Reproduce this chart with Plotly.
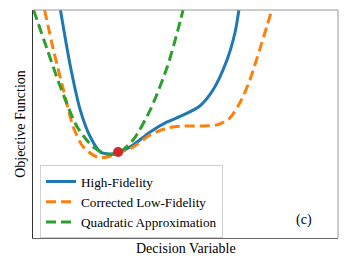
import plotly.graph_objects as go

# Values (data units, x and y in 0..10)
hf_x = [0.90, 1.23, 1.55, 1.88, 2.21, 2.53, 2.79, 3.28, 3.84, 4.40, 4.92, 5.47, 5.90, 6.36, 6.62, 6.75]
hf_y = [10.0, 7.50, 5.61, 4.43, 3.77, 3.68, 3.73, 4.08, 4.65, 5.09, 5.39, 5.79, 6.49, 7.81, 8.99, 10.0]

lf_x = [0.38, 0.67, 1.00, 1.32, 1.65, 2.11, 2.43, 2.79, 3.28, 3.84, 4.40, 4.92, 5.47, 6.03, 6.45, 6.78, 7.11, 7.43, 7.66, 7.83]
lf_y = [10.0, 8.25, 6.49, 4.87, 3.99, 3.55, 3.55, 3.73, 3.99, 4.52, 4.82, 4.91, 4.91, 4.96, 5.26, 5.92, 6.93, 8.25, 9.25, 10.0]

qa_x = [0.02, 0.47, 0.90, 1.45, 1.98, 2.43, 2.79, 3.28, 3.84, 4.40, 4.75, 4.92]
qa_y = [10.0, 8.25, 6.62, 4.87, 3.99, 3.68, 3.73, 4.30, 5.61, 7.50, 9.12, 10.0]

pt_x = [2.79]
pt_y = [3.77]

names = ["High-Fidelity", "Corrected Low-Fidelity", "Quadratic Approximation"]
x_title = "Decision Variable"
y_title = "Objective Function"
panel_label = "(c)"
serif = "Liberation Serif, Times New Roman, serif"

fig = go.Figure()
fig.add_trace(go.Scatter(x=hf_x, y=hf_y, mode="lines", name=names[0],
                         line=dict(color="#1f77b4", width=3, shape="spline", smoothing=0.8)))
fig.add_trace(go.Scatter(x=lf_x, y=lf_y, mode="lines", name=names[1],
                         line=dict(color="#ff7f0e", width=3, dash="10px,5px", shape="spline", smoothing=0.8)))
fig.add_trace(go.Scatter(x=qa_x, y=qa_y, mode="lines", name=names[2],
                         line=dict(color="#2ca02c", width=3, dash="10px,5px", shape="spline", smoothing=0.8)))
fig.add_trace(go.Scatter(x=pt_x, y=pt_y, mode="markers", showlegend=False,
                         marker=dict(color="#d62728", size=10)))

# page body has an 8px margin, so the figure is sized to fill the rest of the window
fig.update_layout(
    width=344, height=254,
    margin=dict(l=24.5, r=13.5, t=2, b=24),
    paper_bgcolor="white", plot_bgcolor="white",
    font=dict(family=serif, size=13, color="black"),
    showlegend=True,
    legend=dict(x=0.023, y=0.318, xanchor="left", yanchor="top",
                bgcolor="white", bordercolor="#d0d0d0", borderwidth=1,
                itemwidth=30, font=dict(family=serif, size=13.2),
                tracegroupgap=0),
    xaxis=dict(range=[0, 10], showticklabels=False, ticks="", showgrid=False, zeroline=False,
               showline=True, linecolor="#666666", linewidth=1, mirror=False, automargin=False),
    yaxis=dict(range=[0, 10], showticklabels=False, ticks="", showgrid=False, zeroline=False,
               showline=True, linecolor="#333333", linewidth=1, mirror=False, automargin=False),
    shapes=[
        dict(type="line", xref="paper", yref="paper", x0=0, x1=1, y0=1, y1=1,
             line=dict(color="#999999", width=1)),
        dict(type="line", xref="paper", yref="paper", x0=1, x1=1, y0=0, y1=1,
             line=dict(color="#999999", width=1)),
    ],
    annotations=[
        dict(text=panel_label, x=0.89, y=0.08, xref="paper", yref="paper",
             xanchor="center", yanchor="middle",
             showarrow=False, font=dict(family=serif, size=14)),
        dict(text=x_title, x=0.5, y=-0.005, xref="paper", yref="paper", xanchor="center",
             yanchor="top", showarrow=False, font=dict(family=serif, size=14)),
        dict(text=y_title, x=-0.012, y=0.5, xref="paper", yref="paper", xanchor="right",
             yanchor="middle", textangle=-90, showarrow=False, font=dict(family=serif, size=14)),
    ],
)

fig.write_html("out.html")
